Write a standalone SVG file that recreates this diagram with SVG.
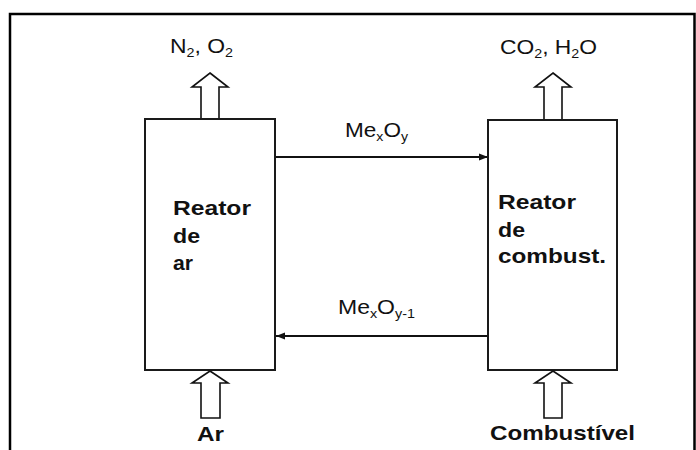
<svg xmlns="http://www.w3.org/2000/svg" width="696" height="450" viewBox="0 0 696 450">
<style>
  .frame{fill:none;stroke:#000;stroke-width:2.5}
  .box{fill:#fff;stroke:#1a1a1a;stroke-width:2}
  .block{fill:#fff;stroke:#111;stroke-width:1.6;stroke-linejoin:miter}
  .flow{stroke:#111;stroke-width:1.8;fill:none}
  .lbl{font-family:"Liberation Sans",Arial,sans-serif;font-size:20px;fill:#111}
  .bold{font-family:"Liberation Sans",Arial,sans-serif;font-size:21px;font-weight:bold;fill:#111}
  .sub{font-size:12.5px}
</style>
<defs>
  <marker id="ah" viewBox="0 0 10 10" refX="10" refY="5" markerWidth="5" markerHeight="5" orient="auto" markerUnits="strokeWidth">
    <path d="M0,1 L10,5 L0,9 Z" fill="#111"/>
  </marker>
</defs>
<rect width="696" height="450" fill="#fff"/>
<path class="frame" d="M10,450 L10,14 L694.5,14 L694.5,450"/>

<g id="connectors">
  <line class="flow" x1="276" y1="157" x2="488" y2="157" marker-end="url(#ah)"/>
  <line class="flow" x1="487" y1="336" x2="276" y2="336" marker-end="url(#ah)"/>
  <text class="lbl" x="345" y="137" textLength="63" lengthAdjust="spacingAndGlyphs">Me<tspan class="sub" dy="4">x</tspan><tspan dy="-4">O</tspan><tspan class="sub" dy="4">y</tspan></text>
  <text class="lbl" x="338" y="314" textLength="77" lengthAdjust="spacingAndGlyphs">Me<tspan class="sub" dy="4">x</tspan><tspan dy="-4">O</tspan><tspan class="sub" dy="4">y-1</tspan></text>
</g>

<g id="out-air">
  <polygon class="block" points="210,73 228,87 219,87 219,120 201,120 201,87 192,87"/>
  <text class="lbl" x="170" y="53" textLength="63" lengthAdjust="spacingAndGlyphs">N<tspan class="sub" dy="4">2</tspan><tspan dy="-4">, O</tspan><tspan class="sub" dy="4">2</tspan></text>
</g>

<g id="out-fuel">
  <polygon class="block" points="553,73 571,87 562,87 562,121 544,121 544,87 535,87"/>
  <text class="lbl" x="500" y="54" textLength="97" lengthAdjust="spacingAndGlyphs">CO<tspan class="sub" dy="4">2</tspan><tspan dy="-4">, H</tspan><tspan class="sub" dy="4">2</tspan><tspan dy="-4">O</tspan></text>
</g>

<g id="reator-ar">
  <rect class="box" x="145" y="119" width="130" height="251"/>
  <text class="bold" x="173" y="215" textLength="78" lengthAdjust="spacingAndGlyphs">Reator</text>
  <text class="bold" x="173" y="243" textLength="27" lengthAdjust="spacingAndGlyphs">de</text>
  <text class="bold" x="173" y="270" textLength="20" lengthAdjust="spacingAndGlyphs">ar</text>
</g>

<g id="reator-comb">
  <rect class="box" x="488" y="120" width="129" height="250"/>
  <text class="bold" x="498" y="209" textLength="78" lengthAdjust="spacingAndGlyphs">Reator</text>
  <text class="bold" x="498" y="237" textLength="27" lengthAdjust="spacingAndGlyphs">de</text>
  <text class="bold" x="498" y="263" textLength="108" lengthAdjust="spacingAndGlyphs">combust.</text>
</g>

<g id="in-air">
  <polygon class="block" points="210,371 228,383 220,383 220,418 201,418 201,383 192,383"/>
  <text class="bold" x="197" y="441" textLength="27" lengthAdjust="spacingAndGlyphs">Ar</text>
</g>

<g id="in-fuel">
  <polygon class="block" points="553,371 571,383 562,383 562,418 544,418 544,383 535,383"/>
  <text class="bold" x="490" y="440" textLength="145" lengthAdjust="spacingAndGlyphs">Combustível</text>
</g>
</svg>
